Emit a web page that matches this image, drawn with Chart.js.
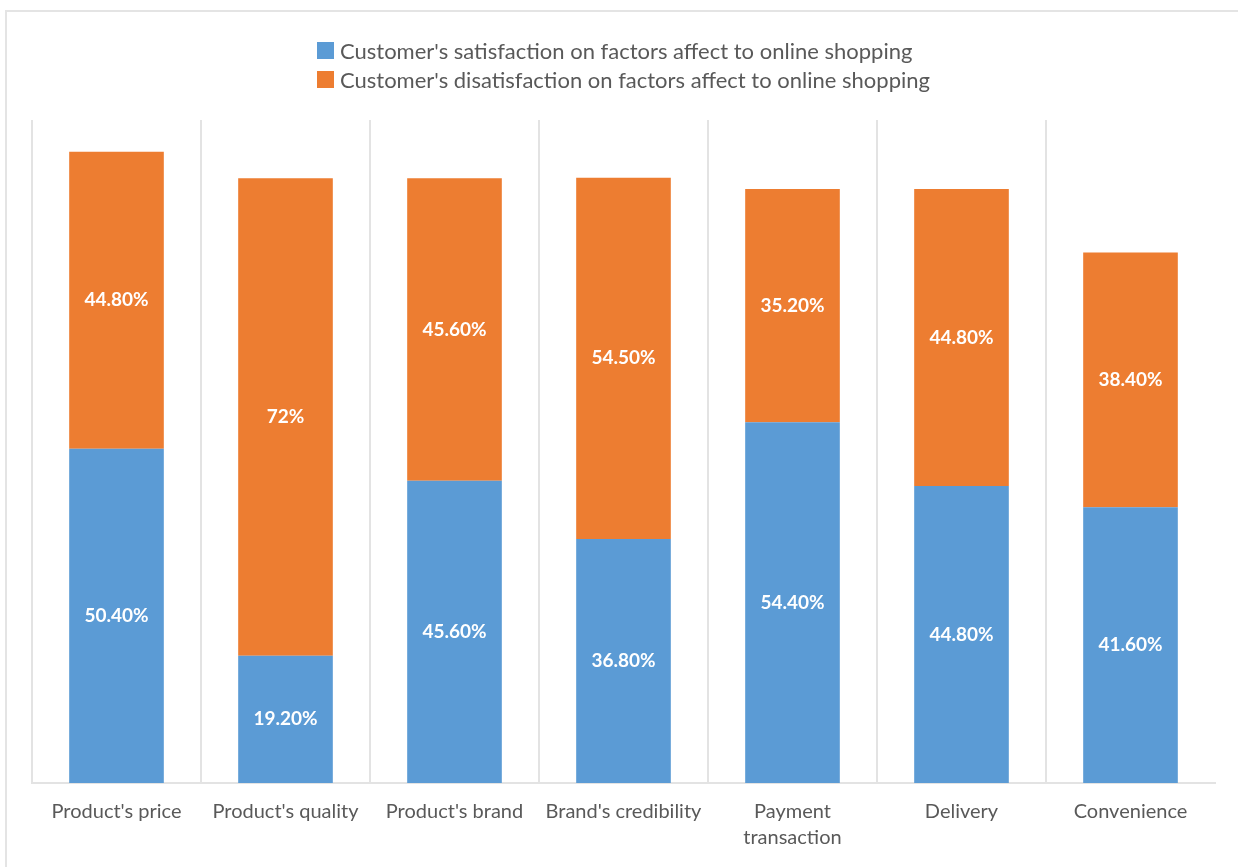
<!DOCTYPE html>
<html>
<head>
<meta charset="utf-8">
<title>Online shopping factors</title>
<script src="https://cdn.jsdelivr.net/npm/chart.js@4.4.1/dist/chart.umd.min.js"></script>
<style>
  html, body { margin: 0; padding: 0; background: #ffffff; }
  #wrap { position: relative; width: 1238px; height: 867px; overflow: hidden; background: #ffffff; }
  #frame { position: absolute; left: 5px; top: 10px; width: 1300px; height: 900px;
           border-left: 2px solid #e4e4e4; border-top: 2px solid #e4e4e4; box-sizing: border-box; }
  #chart { position: absolute; left: 0; top: 0; }
  #legend { position: absolute; left: 32px; width: 1183px; top: 36px; text-align: center;
            font-family: Lato, "Open Sans", sans-serif; font-size: 22px; color: #595959; }
  #legend .inner { display: inline-block; text-align: left; }
  #legend .row { display: flex; align-items: center; height: 29px; white-space: nowrap; }
  #legend .sw { width: 17px; height: 17px; margin-right: 6px; flex: none; }
</style>
</head>
<body>
<div id="wrap">
  <div id="frame"></div>
  <canvas id="chart" width="1238" height="867"></canvas>
  <div id="legend"><div class="inner"></div></div>
</div>
<script>
// Factor names along the x axis (multi-line where the label wraps)
const categories = [
  "Product's price",
  "Product's quality",
  "Product's brand",
  "Brand's credibility",
  ["Payment", "transaction"],
  "Delivery",
  "Convenience"
];

// Series names
const seriesNames = [
  "Customer's satisfaction on factors affect to online shopping",
  "Customer's disatisfaction on factors affect to online shopping"
];

// Percent of respondents per factor
const satisfaction    = [50.4, 19.2, 45.6, 36.8, 54.4, 44.8, 41.6];
const dissatisfaction = [44.8, 72,   45.6, 54.5, 35.2, 44.8, 38.4];

const seriesColors = ['#5B9BD5', '#ED7D31'];
const FONT = 'Lato, "Open Sans", sans-serif';

function fmtPct(v) {
  return Number.isInteger(v) ? v + '%' : v.toFixed(2) + '%';
}

// White value labels centred inside each stacked segment
const segmentLabels = {
  id: 'segmentLabels',
  afterDatasetsDraw(chart) {
    const ctx = chart.ctx;
    ctx.save();
    ctx.font = 'bold 19px ' + FONT;
    ctx.fillStyle = '#ffffff';
    ctx.textAlign = 'center';
    ctx.textBaseline = 'middle';
    chart.data.datasets.forEach((ds, di) => {
      chart.getDatasetMeta(di).data.forEach((bar, i) => {
        const p = bar.getProps(['x', 'y', 'base'], true);
        ctx.fillText(fmtPct(ds.data[i]), p.x, (p.y + p.base) / 2);
      });
    });
    ctx.restore();
  }
};

// Two-row legend with left-aligned swatches
function buildLegend() {
  const inner = document.querySelector('#legend .inner');
  seriesNames.forEach((name, i) => {
    const row = document.createElement('div');
    row.className = 'row';
    const sw = document.createElement('span');
    sw.className = 'sw';
    sw.style.background = seriesColors[i];
    const tx = document.createElement('span');
    tx.textContent = name;
    row.appendChild(sw);
    row.appendChild(tx);
    inner.appendChild(row);
  });
}

function draw() {
  buildLegend();
  new Chart(document.getElementById('chart'), {
    type: 'bar',
    data: {
      labels: categories,
      datasets: [
        { label: seriesNames[0], data: satisfaction, backgroundColor: seriesColors[0] },
        { label: seriesNames[1], data: dissatisfaction, backgroundColor: seriesColors[1] }
      ]
    },
    options: {
      responsive: false,
      animation: false,
      layout: { padding: { top: 120, left: 32, right: 23, bottom: 0 } },
      datasets: { bar: { barPercentage: 0.56, categoryPercentage: 1 } },
      scales: {
        x: {
          stacked: true,
          grid: {
            offset: true,
            drawTicks: false,
            lineWidth: 2,
            color: (c) => c.type === 'tick' ? '#e3e3e3' : 'rgba(0,0,0,0)'
          },
          border: { display: true, color: '#e3e3e3', width: 2 },
          ticks: {
            autoSkip: false,
            maxRotation: 0,
            padding: 16,
            color: '#595959',
            font: { family: FONT, size: 20, lineHeight: 1.3 }
          },
          afterFit: (s) => { s.height = 84; }
        },
        y: {
          stacked: true,
          display: false,
          min: 0,
          max: 100
        }
      },
      plugins: {
        legend: { display: false },
        tooltip: { enabled: false }
      }
    },
    plugins: [segmentLabels]
  });
}

Promise.all([
  document.fonts.load('20px Lato'),
  document.fonts.load('bold 19px Lato')
]).catch(() => {}).then(draw);
</script>
</body>
</html>
